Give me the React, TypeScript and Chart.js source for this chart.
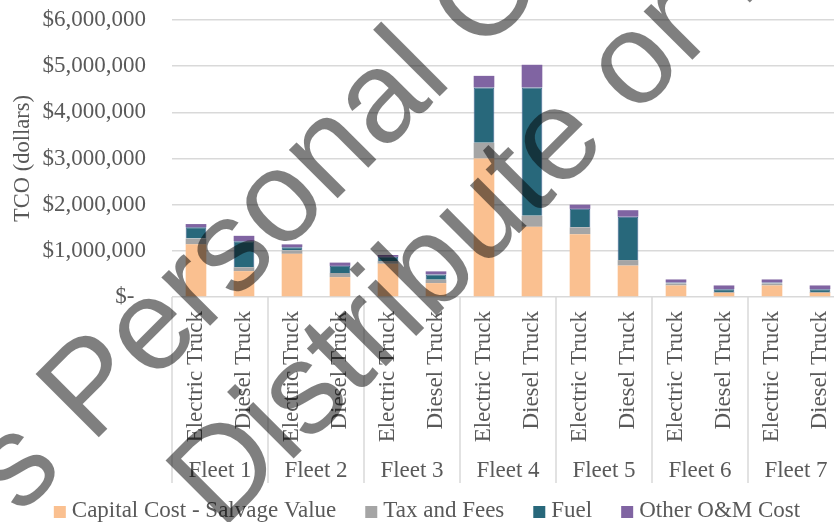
import React, { useEffect, useRef } from 'react';
import { Chart, registerables } from 'chart.js';

Chart.register(...registerables);

const categories = [
  'Electric Truck', 'Diesel Truck',
  'Electric Truck', 'Diesel Truck',
  'Electric Truck', 'Diesel Truck',
  'Electric Truck', 'Diesel Truck',
  'Electric Truck', 'Diesel Truck',
  'Electric Truck', 'Diesel Truck',
  'Electric Truck', 'Diesel Truck',
];
const fleets = ['Fleet 1', 'Fleet 2', 'Fleet 3', 'Fleet 4', 'Fleet 5', 'Fleet 6', 'Fleet 7'];

const capitalCost = [1140000, 560000, 935000, 430000, 720000, 300000, 3000000, 1520000, 1360000, 680000, 250000, 90000, 250000, 90000];
const taxFees = [125000, 85000, 75000, 90000, 60000, 75000, 340000, 240000, 150000, 120000, 40000, 20000, 40000, 20000];
const fuel = [245000, 565000, 70000, 155000, 90000, 115000, 1200000, 2780000, 400000, 940000, 25000, 60000, 25000, 60000];
const otherOM = [70000, 115000, 60000, 70000, 40000, 65000, 250000, 490000, 90000, 140000, 65000, 80000, 65000, 80000];

const seriesNames = ['Capital Cost - Salvage Value', 'Tax and Fees', 'Fuel', 'Other O&M Cost'];
const seriesColors = ['#FAC090', '#A5A5A5', '#28687B', '#8064A2'];

const yMin = 0;
const yMax = 6000000;
const yStep = 1000000;

const watermarkLines = ["Author's Personal Copy", '- Distribute or Reproduce'];
const watermarkAnchors = ["Author's ", '- Distribute '];

const SERIF = '"Liberation Serif", "Times New Roman", serif';
const TEXT = '#595959';
const FS = 23;

const overlayPlugin = {
  id: 'overlay',
  afterDraw(chart: any) {
    const ctx = chart.ctx as CanvasRenderingContext2D;
    const xs = chart.scales.x;
    const area = chart.chartArea;
    const n = categories.length;
    const half = (xs.getPixelForValue(1) - xs.getPixelForValue(0)) / 2;
    ctx.save();
    // fleet dividers
    ctx.strokeStyle = '#d9d9d9';
    ctx.lineWidth = 1.5;
    for (let k = 0; k <= fleets.length; k++) {
      const i = k * 2;
      const px = i < n ? xs.getPixelForValue(i) - half : xs.getPixelForValue(n - 1) + half;
      ctx.beginPath();
      ctx.moveTo(px, area.bottom);
      ctx.lineTo(px, area.bottom + 186);
      ctx.stroke();
    }
    // fleet labels
    ctx.fillStyle = TEXT;
    ctx.font = `${FS}px ${SERIF}`;
    ctx.textAlign = 'center';
    ctx.textBaseline = 'alphabetic';
    fleets.forEach((f, k) => {
      const cx = (xs.getPixelForValue(2 * k) + xs.getPixelForValue(2 * k + 1)) / 2;
      ctx.fillText(f, cx, area.bottom + 180);
    });
    // legend
    const box = 12;
    const gap = 6;
    const itemGap = 29;
    const widths = seriesNames.map((s) => ctx.measureText(s).width);
    const total = widths.reduce((a, w) => a + box + gap + w, 0) + itemGap * (seriesNames.length - 1);
    let lx = 427 - total / 2;
    ctx.textAlign = 'left';
    seriesNames.forEach((s, i) => {
      ctx.fillStyle = seriesColors[i];
      ctx.fillRect(lx, 506, box, box);
      ctx.fillStyle = TEXT;
      ctx.fillText(s, lx + box + gap, 517);
      lx += box + gap + widths[i] + itemGap;
    });
    // watermark
    ctx.font = '130px "Liberation Sans", Arial, sans-serif';
    ctx.fillStyle = 'rgba(0,0,0,0.5)';
    ctx.textAlign = 'left';
    ctx.textBaseline = 'alphabetic';
    ctx.rotate(-Math.PI / 4);
    const anchorsU = [-250, 366];
    const baselines = [379, 532];
    watermarkLines.forEach((t, i) => {
      const off = ctx.measureText(watermarkAnchors[i]).width;
      ctx.fillText(t, anchorsU[i] - off, baselines[i]);
    });
    ctx.restore();
  },
};

export default function App() {
  const ref = useRef<HTMLCanvasElement | null>(null);
  useEffect(() => {
    if (!ref.current) return;
    const font = { family: SERIF, size: FS };
    const values = [capitalCost, taxFees, fuel, otherOM];
    const chart = new Chart(ref.current, {
      type: 'bar',
      data: {
        labels: categories,
        datasets: seriesNames.map((name, i) => ({
          label: name,
          data: values[i],
          backgroundColor: seriesColors[i],
          borderColor: i === 2 ? '#3A5F8C' : seriesColors[i],
          borderWidth: i === 2 ? 1 : 0,
          categoryPercentage: 1,
          barPercentage: 0.43,
        })),
      },
      options: {
        responsive: false,
        animation: false,
        layout: { padding: { top: 20, right: 2, bottom: 39, left: 0 } },
        plugins: { legend: { display: false }, title: { display: false }, tooltip: { enabled: false } },
        scales: {
          x: {
            stacked: true,
            grid: { display: false, drawTicks: false },
            border: { display: false },
            ticks: { autoSkip: false, maxRotation: 90, minRotation: 90, padding: 14, color: TEXT, font },
            afterFit: (s: any) => {
              s.height = 186;
              s.paddingLeft = 0;
              s.paddingRight = 0;
            },
          },
          y: {
            stacked: true,
            min: yMin,
            max: yMax,
            ticks: {
              stepSize: yStep,
              padding: 26,
              color: TEXT,
              font,
              callback: (v: any) => (Number(v) === 0 ? '$-  ' : '$' + Number(v).toLocaleString('en-US')),
            },
            grid: { color: '#d9d9d9', lineWidth: 1.5, drawTicks: false },
            border: { display: false },
            title: { display: true, text: 'TCO (dollars)', color: TEXT, font: { family: SERIF, size: 22.5 }, padding: { top: 9.5, bottom: 0 } },
            afterFit: (s: any) => {
              s.width = 172;
              s.paddingTop = 0;
              s.paddingBottom = 0;
            },
          },
        },
      },
      plugins: [overlayPlugin],
    } as any);
    return () => chart.destroy();
  }, []);
  return (
    <div style={{ position: 'fixed', left: 0, top: 0, width: 834, height: 522, overflow: 'hidden', background: '#fff' }}>
      <canvas ref={ref} width={846} height={522} style={{ display: 'block', width: 846, height: 522 }} />
    </div>
  );
}
